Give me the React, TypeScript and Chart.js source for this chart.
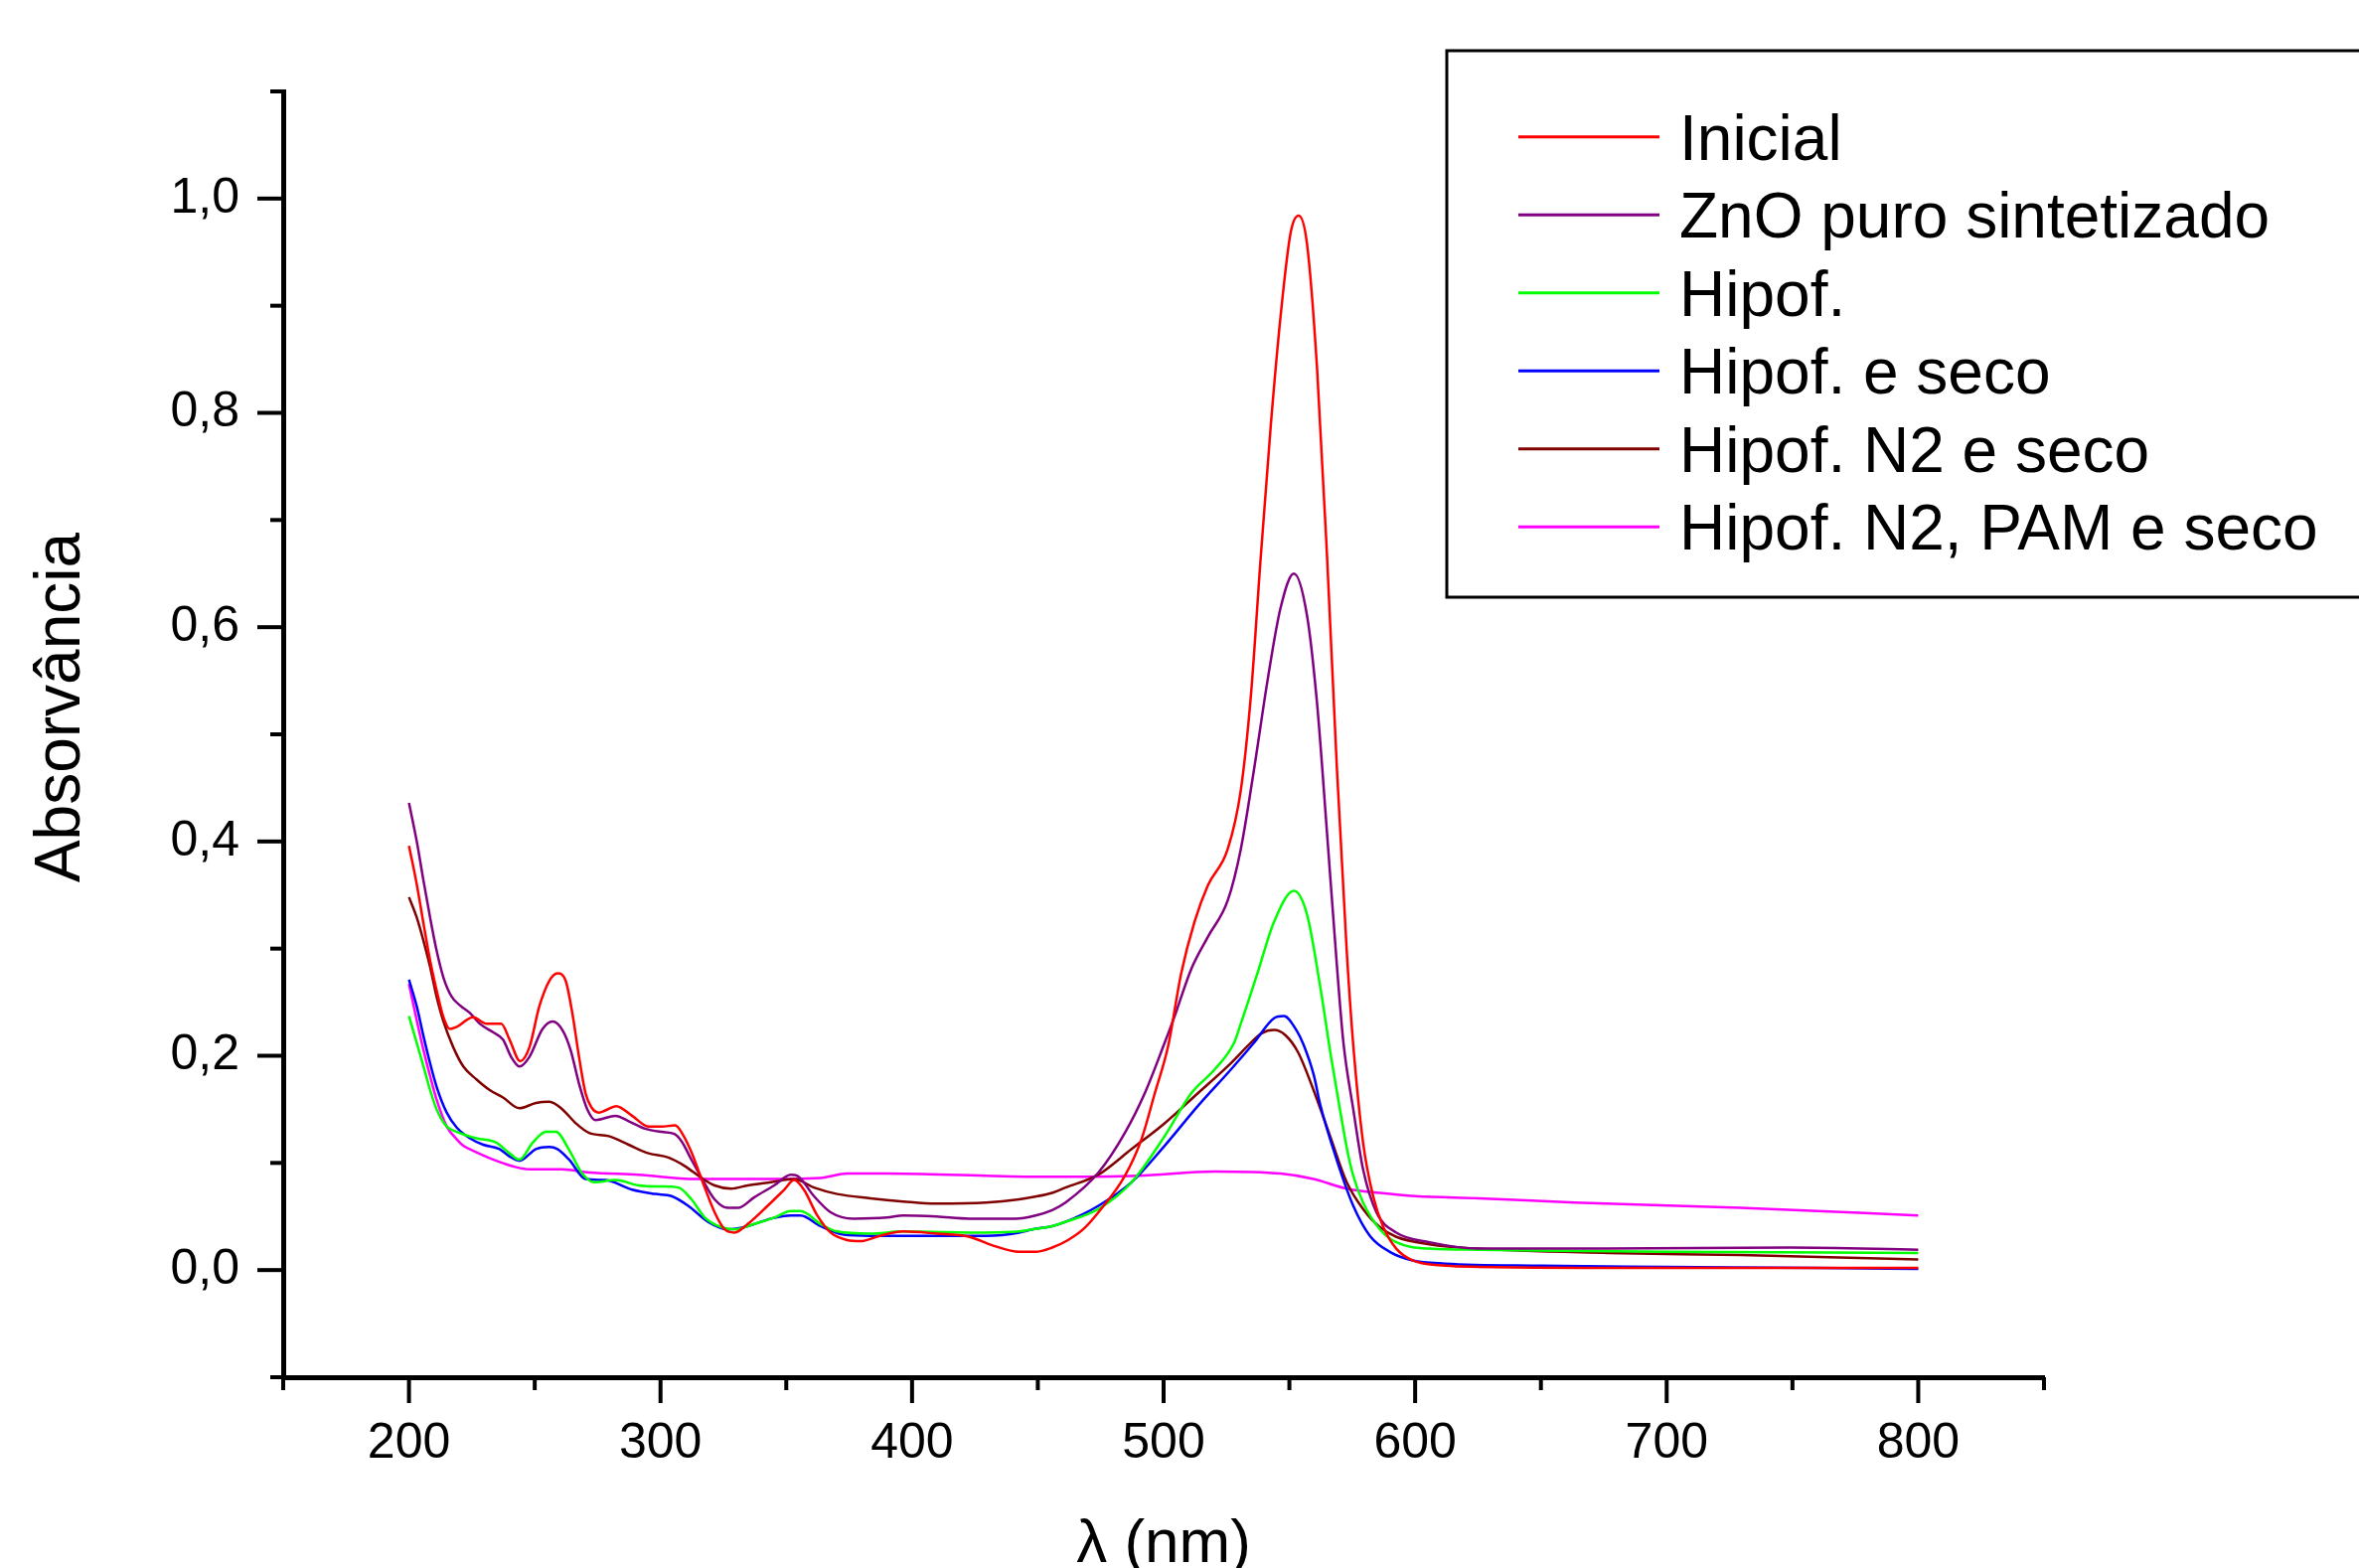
import React, { useEffect, useRef } from 'react';
import { Chart, registerables } from 'chart.js';

Chart.register(...registerables);

const FONT = "'Liberation Sans', Arial, sans-serif";

// ---- Data (λ in nm, absorbance) ----
const inicialX = [200, 203.1, 205.8, 208.4, 211, 213.7, 216.3, 219, 225.5, 230.8, 236.7, 240, 244.2, 247.9, 251.8, 255.8, 259.1, 262.3, 265, 267.6, 270.2, 272.5, 275.5, 278.1, 282.4, 288.7, 295.2, 300.5, 305.8, 309, 312.3, 316.3, 321.5, 325.5, 329.4, 334.7, 342.6, 349.2, 353.1, 357, 362.3, 367.6, 374.2, 379.4, 387.3, 396.5, 409.7, 422.8, 432, 442.6, 449.1, 455.7, 462, 468, 474.1, 484.6, 491.2, 496.5, 501.8, 507, 512.3, 517.6, 525.5, 530.7, 534.7, 538.6, 542.6, 546.5, 550.5, 553.7, 557, 561, 565, 568.9, 572.8, 575.4, 579.3, 583.3, 587.2, 592.5, 599, 612.2, 625.4, 700, 800];
const inicialY = [0.396, 0.360, 0.323, 0.289, 0.261, 0.236, 0.225, 0.227, 0.236, 0.230, 0.230, 0.215, 0.195, 0.208, 0.246, 0.270, 0.277, 0.270, 0.239, 0.199, 0.165, 0.152, 0.147, 0.149, 0.153, 0.144, 0.134, 0.134, 0.135, 0.126, 0.110, 0.085, 0.054, 0.038, 0.035, 0.043, 0.060, 0.075, 0.084, 0.075, 0.051, 0.035, 0.028, 0.027, 0.032, 0.036, 0.034, 0.031, 0.023, 0.017, 0.017, 0.021, 0.028, 0.038, 0.054, 0.088, 0.122, 0.165, 0.209, 0.277, 0.325, 0.359, 0.393, 0.448, 0.536, 0.665, 0.788, 0.890, 0.968, 0.984, 0.958, 0.842, 0.665, 0.468, 0.298, 0.210, 0.119, 0.069, 0.041, 0.020, 0.009, 0.004, 0.003, 0.002, 0.002];

const znoX = [200, 203.1, 205.8, 208.4, 211, 213.7, 217, 220.3, 224.2, 228.1, 233.4, 237.4, 240.6, 243.9, 247.9, 253.1, 257.1, 261, 264.3, 267.6, 270.9, 274.2, 282.1, 287.3, 293.9, 300.5, 305.5, 308.4, 312.3, 316.3, 321.5, 326.8, 330.8, 337.3, 345.2, 351.8, 354.4, 361, 367.6, 376.8, 390, 396.5, 409.7, 422.8, 441.2, 449.1, 455.7, 461, 474.1, 484.6, 492.5, 500.4, 504.4, 511, 517.6, 525.5, 530.7, 536, 541.3, 546.5, 551.8, 557, 561, 565, 568.9, 571.5, 575.4, 579.3, 584.6, 592.5, 605.7, 625, 676, 749, 800];
const znoY = [0.436, 0.400, 0.363, 0.329, 0.298, 0.273, 0.255, 0.247, 0.240, 0.230, 0.222, 0.215, 0.199, 0.190, 0.199, 0.225, 0.232, 0.224, 0.205, 0.174, 0.150, 0.140, 0.144, 0.139, 0.132, 0.129, 0.127, 0.120, 0.103, 0.086, 0.066, 0.058, 0.058, 0.068, 0.079, 0.089, 0.088, 0.069, 0.054, 0.048, 0.049, 0.051, 0.050, 0.048, 0.048, 0.051, 0.056, 0.063, 0.091, 0.128, 0.165, 0.212, 0.237, 0.281, 0.311, 0.345, 0.393, 0.468, 0.550, 0.618, 0.650, 0.611, 0.529, 0.407, 0.284, 0.212, 0.150, 0.094, 0.054, 0.035, 0.026, 0.020, 0.020, 0.021, 0.019];

const hipofX = [200, 203.1, 205.8, 208.4, 211, 215, 219, 226.8, 234.7, 240, 243.9, 249.2, 254.5, 258.4, 263.7, 268.6, 273.5, 282.1, 291.3, 300, 307.1, 312.3, 317.6, 324.2, 329.4, 337.3, 345.2, 351.8, 355.7, 363.6, 370.2, 383.4, 396.5, 429.4, 442.6, 447.8, 455.7, 461, 474.1, 487.3, 500.4, 511, 520.2, 528, 530.7, 537.3, 543.9, 551.8, 557, 562.3, 566.5, 570.1, 573, 575.4, 579.3, 586, 592.5, 605.7, 625, 700, 800];
const hipofY = [0.237, 0.212, 0.190, 0.168, 0.150, 0.134, 0.129, 0.123, 0.119, 0.109, 0.103, 0.119, 0.129, 0.129, 0.112, 0.091, 0.082, 0.084, 0.079, 0.078, 0.077, 0.066, 0.049, 0.040, 0.038, 0.043, 0.049, 0.055, 0.055, 0.043, 0.036, 0.034, 0.036, 0.035, 0.036, 0.038, 0.041, 0.045, 0.057, 0.082, 0.125, 0.165, 0.187, 0.212, 0.230, 0.277, 0.325, 0.354, 0.332, 0.264, 0.200, 0.150, 0.112, 0.088, 0.063, 0.038, 0.026, 0.020, 0.019, 0.017, 0.016];

const secoX = [200, 203.1, 205.8, 208.4, 211, 215, 219, 224.2, 229.5, 236, 240, 243.9, 250.5, 255.8, 259, 263.7, 270.2, 278.1, 288.7, 297.9, 304.4, 311, 318.9, 326.8, 334.7, 343.9, 351.8, 355.7, 363.6, 372.8, 383.4, 403.1, 429.4, 442.6, 447.8, 455.7, 461, 474.1, 487.3, 500.4, 513.6, 526.7, 535.9, 543.9, 547.8, 553, 555.7, 559.7, 562.2, 568.8, 575.4, 582, 589.9, 599, 612, 650, 700, 760, 800];
const secoY = [0.271, 0.246, 0.218, 0.193, 0.171, 0.147, 0.133, 0.123, 0.117, 0.113, 0.106, 0.102, 0.113, 0.115, 0.113, 0.103, 0.085, 0.084, 0.075, 0.071, 0.069, 0.060, 0.045, 0.038, 0.041, 0.048, 0.051, 0.051, 0.041, 0.033, 0.032, 0.032, 0.032, 0.035, 0.038, 0.041, 0.045, 0.060, 0.082, 0.116, 0.153, 0.187, 0.212, 0.235, 0.237, 0.223, 0.210, 0.182, 0.155, 0.103, 0.060, 0.032, 0.017, 0.009, 0.006, 0.004, 0.003, 0.002, 0.001];

const n2X = [200, 203.1, 205.8, 208.4, 211, 213.7, 217.6, 221.6, 226.8, 232.1, 237.4, 243.9, 250.5, 255.8, 261, 266.3, 271.6, 279.4, 287.3, 295.2, 303.1, 309.7, 316.3, 321.5, 328.1, 334.7, 343.9, 353.1, 361, 370.2, 383.4, 396.5, 409.7, 429.4, 442.6, 447.8, 455.7, 461, 474.1, 487.3, 500.4, 513.6, 526.7, 534.6, 539, 543.9, 548.5, 553.5, 559.6, 566.2, 572.8, 579.3, 586, 592.5, 605.7, 624, 676.7, 729.3, 800];
const n2Y = [0.348, 0.329, 0.307, 0.283, 0.255, 0.232, 0.208, 0.190, 0.178, 0.168, 0.161, 0.151, 0.156, 0.157, 0.150, 0.137, 0.128, 0.125, 0.117, 0.109, 0.105, 0.097, 0.086, 0.079, 0.076, 0.079, 0.082, 0.085, 0.077, 0.071, 0.067, 0.064, 0.062, 0.063, 0.066, 0.068, 0.072, 0.077, 0.089, 0.113, 0.137, 0.165, 0.193, 0.212, 0.221, 0.224, 0.219, 0.203, 0.168, 0.125, 0.082, 0.057, 0.040, 0.031, 0.024, 0.020, 0.016, 0.014, 0.010];

const pamX = [200, 203.1, 205.8, 208.4, 211, 215, 219, 221.6, 226.8, 234.7, 242.6, 247.9, 261, 271.6, 291.3, 313.7, 337.3, 363.6, 374.2, 390, 429.4, 455.7, 490, 520.2, 546.5, 559.6, 572.8, 586, 600, 625.4, 663.6, 729.3, 800];
const pamY = [0.267, 0.233, 0.205, 0.181, 0.159, 0.134, 0.122, 0.116, 0.110, 0.102, 0.096, 0.094, 0.094, 0.091, 0.089, 0.085, 0.085, 0.086, 0.090, 0.090, 0.088, 0.087, 0.088, 0.092, 0.090, 0.085, 0.076, 0.072, 0.069, 0.067, 0.063, 0.058, 0.051];

const seriesLabels = ['Inicial', 'ZnO puro sintetizado', 'Hipof.', 'Hipof. e seco', 'Hipof. N2 e seco', 'Hipof. N2, PAM e seco'];
const seriesColors = ['#FF0000', '#800080', '#00FF00', '#0000FF', '#800000', '#FF00FF'];
const seriesX = [inicialX, znoX, hipofX, secoX, n2X, pamX];
const seriesY = [inicialY, znoY, hipofY, secoY, n2Y, pamY];

const xMajorTicks = [200, 300, 400, 500, 600, 700, 800];
const xMinorTicks = [150, 250, 350, 450, 550, 650, 750, 850];
const yMajorTicks = [0, 0.2, 0.4, 0.6, 0.8, 1.0];
const yMinorTicks = [-0.1, 0.1, 0.3, 0.5, 0.7, 0.9, 1.1];
const xTitle = 'λ (nm)';
const yTitle = 'Absorvância';

const decorPlugin = {
  id: 'decor',
  afterDraw(chart: any) {
    const ctx = chart.ctx as CanvasRenderingContext2D;
    const xs = chart.scales.x;
    const ys = chart.scales.y;
    const { left, right, bottom } = chart.chartArea;
    ctx.save();
    ctx.strokeStyle = '#000';
    ctx.lineWidth = 4;
    ctx.lineCap = 'butt';
    const seg = (x1: number, y1: number, x2: number, y2: number) => {
      ctx.beginPath();
      ctx.moveTo(x1, y1);
      ctx.lineTo(x2, y2);
      ctx.stroke();
    };
    xMajorTicks.forEach((v) => { const p = xs.getPixelForValue(v); seg(p, bottom, p, bottom + 26); });
    xMinorTicks.forEach((v) => { const p = xs.getPixelForValue(v); seg(p, bottom, p, bottom + 13); });
    yMajorTicks.forEach((v) => { const p = ys.getPixelForValue(v); seg(left, p, left - 26, p); });
    yMinorTicks.forEach((v) => { const p = ys.getPixelForValue(v); seg(left, p, left - 13, p); });

    // axis titles
    ctx.fillStyle = '#000';
    ctx.font = `62px ${FONT}`;
    ctx.textAlign = 'center';
    ctx.textBaseline = 'alphabetic';
    ctx.fillText(xTitle, (left + right) / 2, 1572);
    ctx.save();
    ctx.translate(80, 712);
    ctx.rotate(-Math.PI / 2);
    ctx.font = `64px ${FONT}`;
    ctx.fillText(yTitle, 0, 0);
    ctx.restore();

    // legend
    ctx.lineWidth = 3;
    ctx.strokeStyle = '#000';
    ctx.strokeRect(1456, 51, 1000, 550);
    ctx.font = `64px ${FONT}`;
    ctx.textAlign = 'left';
    chart.data.datasets.forEach((ds: any, i: number) => {
      const y = 137.7 + i * 78.5;
      ctx.strokeStyle = ds.borderColor;
      ctx.lineWidth = 3;
      seg(1528, y, 1670, y);
      ctx.fillStyle = '#000';
      ctx.fillText(ds.label, 1690, y + 23);
    });
    ctx.restore();
  },
};

export default function App() {
  const canvasRef = useRef<HTMLCanvasElement | null>(null);

  useEffect(() => {
    const canvas = canvasRef.current;
    if (!canvas) return;
    const datasets = seriesLabels.map((label, i) => ({
      label,
      data: seriesX[i].map((x, j) => ({ x, y: seriesY[i][j] })),
      borderColor: seriesColors[i],
      backgroundColor: seriesColors[i],
      borderWidth: 2.5,
      pointRadius: 0,
      fill: false,
      cubicInterpolationMode: 'monotone' as const,
    }));
    const chart = new Chart(canvas, {
      type: 'line',
      data: { datasets },
      options: {
        animation: false,
        responsive: false,
        devicePixelRatio: 1,
        layout: { padding: { top: 92, right: 317, left: 0, bottom: 0 } },
        plugins: { legend: { display: false }, tooltip: { enabled: false } },
        scales: {
          x: {
            type: 'linear',
            min: 150,
            max: 850,
            afterBuildTicks: (scale: any) => { scale.ticks = xMajorTicks.map((v) => ({ value: v })); },
            afterFit: (scale: any) => { scale.height = 192; },
            grid: { display: false, drawTicks: false },
            border: { display: true, color: '#000', width: 5 },
            ticks: {
              padding: 37,
              color: '#000',
              font: { size: 50, family: FONT },
              maxRotation: 0,
              autoSkip: false,
              callback: (v: any) => String(v),
            },
          },
          y: {
            type: 'linear',
            min: -0.1,
            max: 1.1,
            afterBuildTicks: (scale: any) => { scale.ticks = yMajorTicks.map((v) => ({ value: v })); },
            afterFit: (scale: any) => { scale.width = 285; },
            grid: { display: false, drawTicks: false },
            border: { display: true, color: '#000', width: 5 },
            ticks: {
              padding: 44,
              color: '#000',
              font: { size: 50, family: FONT },
              autoSkip: false,
              callback: (v: any) => Number(v).toFixed(1).replace('.', ','),
            },
          },
        },
      },
      plugins: [decorPlugin],
    });
    return () => chart.destroy();
  }, []);

  return (
    <div style={{ position: 'fixed', left: 0, top: 0, width: 2374, height: 1578, background: '#fff' }}>
      <canvas ref={canvasRef} width={2374} height={1578} style={{ display: 'block' }} />
    </div>
  );
}
